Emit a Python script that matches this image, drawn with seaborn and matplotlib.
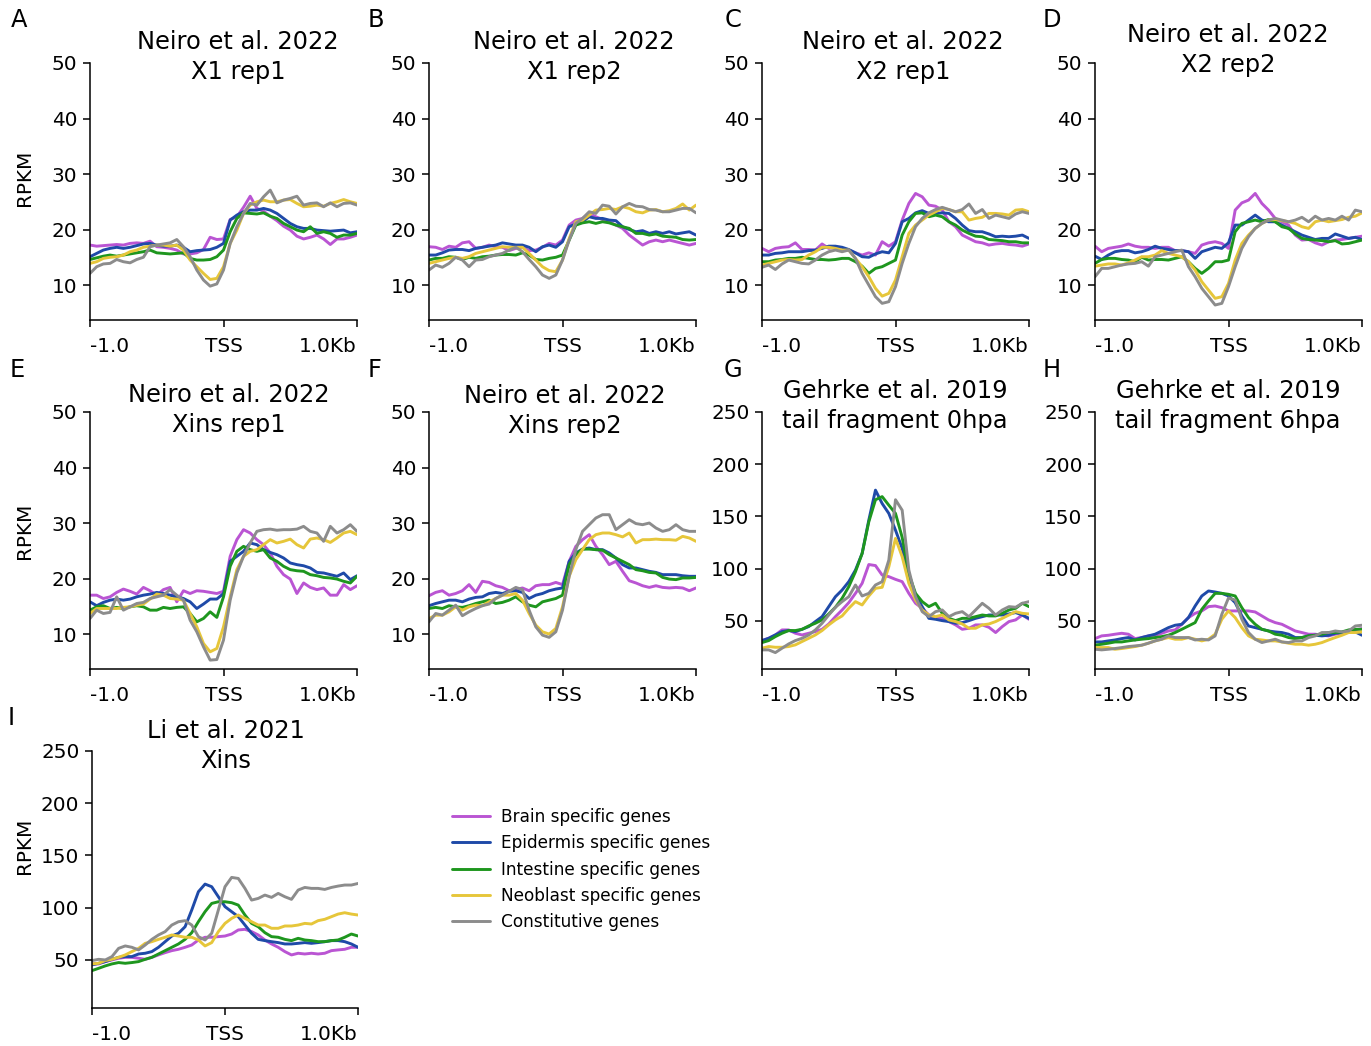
import numpy as np
import pandas as pd
import matplotlib
matplotlib.use("Agg")
import matplotlib.pyplot as plt
import seaborn as sns
from matplotlib.lines import Line2D

sns.set_style("ticks")
plt.rcParams["font.family"] = ["DejaVu Sans"]
for k in ("text.color", "axes.labelcolor", "xtick.color", "ytick.color", "axes.edgecolor"):
    plt.rcParams[k] = "black"

# ---------------- data ----------------
bins = np.linspace(-1000, 1000, 41)
gene_sets = ["Brain specific genes", "Epidermis specific genes", "Intestine specific genes",
             "Neoblast specific genes", "Constitutive genes"]
colors = ["#BA55D3", "#1F4AA8", "#1E961E", "#E6C63A", "#8C8C8C"]
xtick_labels = ["-1.0", "TSS", "1.0Kb"]

A_brain = [17.2,17.0,17.1,17.2,17.3,17.2,17.5,17.6,17.5,17.9,16.9,16.8,16.6,16.3,15.6,15.6,15.8,16.4,18.6,18.2,18.3,21.8,22.3,24.0,26.0,23.8,23.3,22.4,21.6,20.6,19.9,18.8,18.3,18.6,19.0,18.3,17.3,18.3,18.3,18.6,19.0]
A_epid = [15.1,15.7,16.3,16.6,16.8,16.6,16.8,17.1,17.4,17.5,17.2,17.0,17.0,17.2,16.8,16.0,16.2,16.3,16.4,16.8,17.5,21.7,22.6,23.2,23.5,23.5,23.8,23.5,22.9,22.0,21.1,20.5,20.2,20.2,19.9,19.8,19.7,19.8,19.9,19.4,19.6]
A_intest = [14.6,14.9,15.2,15.4,15.2,15.4,15.6,15.8,16.0,16.3,15.8,15.7,15.6,15.7,15.8,14.8,14.5,14.5,14.6,15.1,16.3,19.6,22.0,23.0,22.9,22.8,23.0,22.4,22.0,21.1,20.5,19.9,19.6,20.5,19.3,19.6,19.3,18.6,19.0,19.0,19.3]
A_neo = [13.9,14.2,14.8,15.0,15.1,15.4,16.0,16.3,16.8,17.0,17.2,17.2,17.0,17.2,16.3,14.5,13.3,12.1,11.0,11.2,13.3,17.5,19.9,22.9,24.4,25.0,25.3,25.0,25.0,25.3,25.4,24.7,24.1,24.2,24.4,24.2,24.7,25.0,25.4,25.0,24.7]
A_const = [12.1,13.3,13.8,13.9,14.6,14.2,14.0,14.6,15.0,16.9,17.2,17.4,17.6,18.2,16.9,15.1,12.7,10.9,9.8,10.2,12.7,17.5,20.5,22.9,24.7,24.4,25.9,27.1,24.8,25.3,25.6,26.0,24.4,24.7,24.8,24.1,24.8,24.1,24.7,24.8,24.4]

B_brain = [16.9,16.8,16.4,17.0,16.8,17.6,17.8,16.6,16.8,17.2,16.9,16.8,16.2,16.6,16.8,16.2,16.3,16.8,17.5,17.2,18.1,20.8,21.7,22.0,22.9,22.3,21.8,21.4,20.8,20.2,19.0,18.1,17.2,17.8,18.1,17.8,18.1,17.8,17.5,17.2,17.5]
B_epid = [15.4,15.4,15.8,16.3,16.4,16.4,16.2,16.6,16.8,17.0,17.2,17.6,17.4,17.2,17.2,16.8,16.0,16.9,17.2,16.8,17.8,20.5,21.0,21.4,22.3,22.0,22.0,21.7,21.6,20.5,20.0,19.6,19.8,19.3,19.6,19.3,19.6,19.2,19.4,19.6,19.0]
B_intest = [14.5,14.8,14.8,15.1,15.0,14.6,15.0,14.8,15.1,15.2,15.4,15.5,15.5,15.4,15.8,15.4,14.6,14.5,14.8,15.0,15.4,18.1,20.8,21.2,21.4,21.1,21.4,21.2,20.8,20.5,20.2,19.3,19.3,19.0,19.2,18.8,18.7,18.6,18.2,18.1,18.2]
B_neo = [13.9,14.2,14.5,14.8,15.0,14.8,15.1,15.7,16.0,16.3,16.6,16.9,16.8,16.8,16.8,15.7,14.5,13.3,12.6,12.4,14.5,18.4,21.4,21.7,22.6,23.5,23.6,23.8,23.6,24.1,23.8,23.2,23.0,23.5,23.6,23.2,23.4,23.8,24.6,23.5,24.4]
B_const = [12.7,13.6,13.2,13.9,15.0,14.5,13.3,14.5,14.6,15.1,15.4,15.7,16.3,16.8,16.0,14.6,13.3,11.8,11.2,11.8,14.5,18.1,21.1,22.0,23.2,22.9,24.4,24.2,22.8,24.1,24.7,24.2,24.1,23.6,23.5,23.2,23.2,23.5,23.8,23.8,23.0]

C_brain = [16.6,16.0,16.6,16.8,16.9,17.6,16.4,16.4,16.3,17.4,16.6,16.8,16.3,16.3,15.8,15.4,15.8,15.4,17.8,17.0,17.8,21.7,24.7,26.5,25.9,24.4,24.2,23.5,21.4,20.5,19.0,18.4,17.8,17.6,17.2,17.4,17.5,17.3,17.2,17.0,17.4]
C_epid = [15.4,15.4,15.7,15.8,16.0,16.0,16.0,16.2,16.3,16.6,17.0,17.0,16.8,16.4,15.8,15.1,15.0,15.6,16.0,15.8,17.5,21.4,22.0,23.0,23.4,22.9,22.9,23.0,22.9,22.0,20.8,19.8,19.6,19.6,19.2,18.7,18.8,18.7,18.8,19.0,18.4]
C_intest = [14.2,14.2,14.5,14.6,14.8,14.8,15.0,14.8,14.6,14.6,14.5,14.6,14.8,14.8,14.2,13.4,12.1,13.0,13.3,13.9,14.5,19.0,21.4,22.9,23.0,22.3,22.6,22.3,21.4,20.8,19.9,19.3,18.8,18.7,18.2,18.1,18.0,17.8,17.8,17.6,17.6]
C_neo = [13.6,13.9,14.2,14.5,14.6,14.5,14.6,15.4,16.0,16.8,16.8,16.6,16.3,16.3,14.8,13.3,11.5,9.4,8.0,8.5,10.9,15.1,19.3,20.8,21.7,22.6,23.2,23.8,23.6,23.2,23.2,21.7,22.0,22.2,22.9,22.9,22.8,22.6,23.5,23.6,23.2]
C_const = [13.2,13.6,12.8,13.8,14.5,14.2,13.9,13.8,14.5,15.4,16.0,16.3,16.0,16.3,14.8,12.1,10.0,7.9,6.7,7.0,9.7,13.9,17.5,20.5,22.0,23.0,23.6,24.0,23.6,23.2,23.6,24.6,22.9,23.6,22.0,22.6,22.3,22.0,22.8,23.2,22.9]

D_brain = [17.0,16.0,16.6,16.8,17.0,17.4,17.0,16.8,16.8,16.6,16.8,16.8,16.2,16.2,16.0,15.7,17.2,17.6,17.8,17.5,16.6,23.5,24.8,25.3,26.5,24.7,23.5,22.0,21.4,20.8,19.0,18.1,18.2,17.6,17.2,17.8,18.1,18.2,18.4,18.6,18.8]
D_epid = [15.2,14.6,15.4,16.0,16.2,16.2,15.8,16.0,16.4,17.0,16.6,16.4,16.2,16.2,16.0,14.8,16.0,16.4,16.8,16.6,17.6,20.8,20.8,21.7,22.6,21.7,21.4,21.4,20.8,20.2,19.6,19.0,18.6,18.2,18.4,18.4,19.2,18.8,18.4,18.6,18.2]
D_intest = [13.9,14.6,14.8,14.8,14.6,14.5,14.2,15.0,14.5,14.6,14.6,14.5,14.8,15.1,14.2,13.0,12.1,13.0,14.2,14.2,14.5,19.6,21.1,21.4,21.7,21.4,21.8,21.4,20.5,20.2,19.2,18.4,18.2,18.1,18.0,17.8,18.0,17.4,17.5,17.8,18.1]
D_neo = [13.4,13.6,13.8,13.8,13.6,14.0,14.5,15.1,15.1,15.4,16.2,15.7,15.4,15.1,14.2,12.7,10.6,9.1,7.6,7.9,10.3,14.5,17.5,19.0,20.2,21.1,21.7,21.8,21.6,21.4,21.1,20.5,20.2,21.4,21.7,21.4,21.6,21.8,22.2,22.4,23.0]
D_const = [11.5,13.0,13.0,13.3,13.6,13.8,13.9,14.2,13.4,15.1,15.4,15.7,16.0,16.3,13.3,11.5,9.4,7.9,6.4,6.7,9.7,13.3,16.6,18.7,20.2,21.1,21.7,22.0,21.7,21.4,21.7,22.2,21.4,22.4,21.7,22.0,21.7,22.4,21.7,23.5,23.2]

E_brain = [17.0,17.0,16.4,16.7,17.5,18.1,17.7,17.2,18.4,17.8,17.0,18.0,18.4,15.8,17.8,17.3,17.8,17.7,17.5,17.3,17.7,24.0,27.0,28.8,28.2,27.0,26.1,24.6,22.2,20.7,19.9,17.3,19.2,18.4,18.0,18.3,17.0,17.0,18.9,18.0,18.7]
E_epid = [15.8,15.1,15.7,16.1,16.3,16.1,16.3,16.7,17.0,17.2,17.5,17.3,17.0,16.7,16.4,15.8,14.6,15.4,16.3,16.3,17.3,23.1,24.0,24.9,26.4,26.1,25.2,24.7,24.3,23.7,22.8,22.5,22.3,21.9,21.1,21.0,20.7,20.4,21.0,19.8,20.5]
E_intest = [14.3,14.9,15.1,14.6,14.8,14.6,14.9,15.1,14.9,14.3,14.3,14.8,14.6,14.8,14.9,13.7,12.2,12.8,14.0,13.0,16.7,22.2,24.9,25.8,25.2,24.9,25.2,23.7,23.1,22.2,21.6,21.4,21.3,20.7,20.5,20.2,20.1,19.9,19.5,19.2,20.4]
E_neo = [13.7,14.6,14.6,14.6,14.6,14.8,14.9,15.2,15.4,16.3,17.2,17.0,16.4,16.3,16.1,13.7,11.3,8.3,6.8,7.4,11.3,16.7,21.6,24.0,24.9,25.2,26.1,27.0,26.4,26.7,27.1,26.1,25.5,27.1,27.3,27.0,26.5,27.3,28.2,28.5,27.9]
E_const = [12.8,14.3,13.7,13.9,16.7,14.3,14.9,15.5,15.7,16.4,16.7,17.0,18.0,17.0,16.1,12.5,10.4,7.7,5.3,5.4,8.9,16.1,21.0,24.0,26.4,28.5,28.8,28.9,28.7,28.8,28.8,28.9,29.4,28.5,28.2,26.7,29.4,28.2,28.8,29.7,28.5]

F_brain = [16.9,17.5,17.8,17.0,17.3,17.8,18.9,17.5,19.5,19.3,18.7,18.4,17.8,18.0,18.3,17.8,18.7,18.9,18.9,19.3,18.9,23.1,25.8,27.0,27.9,25.8,24.3,22.5,23.1,21.3,19.6,19.2,18.7,18.4,18.7,18.4,18.3,18.4,18.3,17.8,18.3]
F_epid = [15.1,15.5,15.8,16.1,16.1,15.8,16.3,16.6,16.7,17.3,17.5,17.3,17.7,17.8,17.5,16.4,17.0,17.3,17.8,18.1,18.3,23.1,24.6,25.3,25.5,25.2,25.2,24.6,23.7,22.5,21.9,21.9,21.6,21.3,21.1,20.7,20.7,20.7,20.5,20.4,20.4]
F_intest = [14.6,14.8,14.6,15.1,14.9,14.8,15.1,15.5,15.8,16.1,15.5,15.7,16.1,16.7,15.8,15.2,14.9,15.8,16.1,16.4,17.0,22.5,24.3,25.3,25.3,25.2,25.1,24.3,23.7,23.1,22.5,21.6,21.4,21.1,21.0,20.2,19.9,19.8,20.1,20.1,20.2]
F_neo = [12.8,13.4,13.4,14.0,14.9,14.3,14.9,15.2,15.1,15.8,16.4,17.0,17.0,17.3,16.1,13.7,11.6,10.4,10.0,11.0,14.9,20.4,23.4,25.2,27.0,27.9,28.2,28.2,27.9,27.5,28.2,26.4,27.0,27.0,27.1,27.0,27.0,26.9,27.6,27.3,26.7]
F_const = [12.2,13.7,13.4,14.3,15.2,13.3,14.0,14.6,15.1,15.4,16.4,17.0,17.7,18.4,18.0,14.3,11.3,9.8,9.4,10.4,14.3,20.4,25.2,28.5,29.7,30.9,31.5,31.5,28.8,29.7,30.6,29.9,29.7,30.0,29.1,28.5,28.8,29.7,28.8,28.5,28.5]

G_brain = [31.2,33.4,36.6,41.4,41.4,38.2,36.6,38.2,39.8,42.0,47.1,54.1,60.5,67.5,76.4,86.0,104.0,103.0,93.9,92.4,89.8,87.6,76.4,66.9,62.1,55.7,52.5,52.5,49.4,46.2,42.0,43.0,46.2,46.2,43.9,38.9,44.6,49.4,51.0,55.7,51.6]
G_epid = [31.2,33.4,36.6,39.8,40.8,39.8,42.0,44.6,49.4,54.1,63.7,73.2,79.6,87.6,98.7,114.6,146.5,175.2,162.4,152.9,136.9,119.4,92.4,74.8,63.7,52.5,51.6,50.3,49.4,47.8,48.4,50.3,52.5,54.1,55.7,55.7,55.7,56.7,58.0,55.7,52.5]
G_intest = [29.3,31.2,35.0,38.2,40.8,40.8,42.0,45.2,47.8,51.0,56.7,63.1,71.7,82.8,97.1,114.6,144.9,166.0,169.0,160.8,152.9,130.0,95.0,76.4,68.5,63.7,66.9,57.3,52.5,50.3,52.5,52.5,54.1,55.7,54.8,54.8,57.3,60.5,62.1,66.9,63.7]
G_neo = [23.9,25.5,24.8,24.8,25.5,27.1,30.3,33.4,36.6,40.8,46.2,51.0,54.8,62.1,68.5,65.3,73.9,81.2,82.2,101.9,129.0,111.5,86.0,70.1,60.5,55.7,54.1,55.7,51.0,49.4,47.1,43.0,43.0,46.2,47.1,49.4,52.5,55.7,58.9,57.3,56.7]
G_const = [22.3,22.3,19.7,23.9,28.0,31.2,33.4,36.6,41.4,47.8,55.7,63.1,68.5,73.2,84.4,73.9,76.4,84.4,87.6,108.3,166.0,156.0,98.7,73.2,58.9,54.1,58.9,60.5,54.1,57.3,58.9,54.1,60.5,66.9,62.1,55.7,60.5,63.7,63.1,66.9,68.5]

H_brain = [33.1,35.7,36.3,37.3,38.2,37.3,33.1,34.1,35.7,36.3,38.2,40.4,41.4,46.8,53.2,57.3,59.6,63.7,64.3,62.7,59.6,59.6,59.6,59.6,58.6,54.8,51.0,48.4,46.8,43.6,40.4,38.9,37.3,37.3,36.3,35.7,37.3,38.2,40.4,41.4,42.7]
H_epid = [29.9,29.9,30.9,31.8,33.1,34.1,31.8,34.1,35.7,37.3,40.4,43.6,45.9,46.8,53.2,64.3,73.9,78.7,77.7,76.4,73.9,67.5,54.8,45.2,43.6,42.0,40.4,39.5,38.9,37.3,34.1,34.1,35.7,36.3,35.7,36.3,38.2,38.9,40.4,39.5,36.3]
H_intest = [26.8,27.7,28.7,29.9,29.9,30.9,31.8,32.5,33.1,34.1,35.0,36.3,38.9,42.0,45.2,48.4,61.1,69.1,76.4,76.4,75.5,73.9,62.7,53.2,46.8,42.0,40.4,37.3,36.3,34.1,33.1,34.1,35.7,36.3,37.3,38.9,38.9,39.5,41.4,42.0,42.0]
H_neo = [24.5,24.5,24.5,22.9,23.6,24.5,25.5,26.8,28.7,30.9,32.5,34.1,32.5,32.5,34.1,32.5,30.9,32.5,37.3,51.6,59.6,53.2,43.6,35.7,32.5,31.8,30.9,30.9,29.9,28.7,27.7,27.7,26.8,27.7,29.3,31.8,34.1,36.3,38.9,38.9,39.5]
H_const = [22.9,22.3,22.9,23.6,24.5,25.5,26.1,26.8,28.7,30.9,32.5,35.7,34.1,34.1,34.1,31.8,32.5,31.8,35.7,56.4,72.0,70.0,51.6,38.9,32.5,29.3,30.9,32.5,29.9,29.3,30.9,30.9,34.1,35.7,38.9,38.9,40.4,39.5,40.4,45.2,45.9]

I_brain = [46.2,46.2,48.4,50.0,51.6,52.5,52.5,51.6,50.6,52.5,54.8,57.0,58.9,60.2,62.1,64.3,69.1,71.7,71.7,72.3,72.9,74.8,78.7,79.3,77.1,73.9,69.1,65.3,62.1,58.0,54.8,56.4,55.7,56.4,55.7,56.4,58.9,59.6,60.2,62.1,62.1]
I_epid = [45.2,46.8,48.4,50.6,52.5,53.2,53.2,55.7,56.4,58.0,62.1,67.5,72.9,75.5,81.8,97.8,115.3,122.6,120.1,110.5,101.0,96.2,91.4,83.4,75.5,69.7,68.5,67.5,66.6,65.3,65.3,65.9,66.6,65.9,66.6,67.5,68.5,68.5,67.5,65.3,62.1]
I_intest = [39.8,42.0,44.3,46.2,47.5,46.8,47.5,48.4,50.6,52.5,55.7,58.9,62.1,65.3,69.7,76.1,86.6,96.2,104.1,105.7,105.7,104.8,102.5,93.0,85.0,81.8,76.1,72.3,71.7,69.7,68.5,70.7,69.1,68.5,67.5,67.5,68.5,69.1,71.7,74.8,72.9]
I_neo = [46.2,46.8,49.4,50.6,52.5,54.8,58.0,61.1,65.9,67.5,69.7,71.7,73.9,72.9,71.7,71.7,69.1,63.4,66.6,77.1,85.0,89.8,93.0,89.8,86.6,83.4,83.4,80.3,80.3,82.5,82.5,83.4,85.0,84.4,87.6,88.9,91.4,93.9,95.2,93.9,93.0]
I_const = [49.4,50.6,50.0,53.2,61.1,63.4,62.1,59.6,64.3,69.7,73.9,77.1,83.4,86.6,87.6,83.4,72.3,69.1,75.5,97.8,120.1,129.0,128.0,118.5,107.3,108.9,112.1,109.9,113.7,110.5,108.0,116.9,119.4,118.5,118.5,117.5,119.4,120.7,121.7,121.7,123.2]

titles = {
    "A": "Neiro et al. 2022\nX1 rep1", "B": "Neiro et al. 2022\nX1 rep2",
    "C": "Neiro et al. 2022\nX2 rep1", "D": "Neiro et al. 2022\nX2 rep2",
    "E": "Neiro et al. 2022\nXins rep1", "F": "Neiro et al. 2022\nXins rep2",
    "G": "Gehrke et al. 2019\ntail fragment 0hpa", "H": "Gehrke et al. 2019\ntail fragment 6hpa",
    "I": "Li et al. 2021\nXins",
}
series = {
    "A": [A_brain, A_epid, A_intest, A_neo, A_const],
    "B": [B_brain, B_epid, B_intest, B_neo, B_const],
    "C": [C_brain, C_epid, C_intest, C_neo, C_const],
    "D": [D_brain, D_epid, D_intest, D_neo, D_const],
    "E": [E_brain, E_epid, E_intest, E_neo, E_const],
    "F": [F_brain, F_epid, F_intest, F_neo, F_const],
    "G": [G_brain, G_epid, G_intest, G_neo, G_const],
    "H": [H_brain, H_epid, H_intest, H_neo, H_const],
    "I": [I_brain, I_epid, I_intest, I_neo, I_const],
}
low_ticks = [10, 20, 30, 40, 50]
high_ticks = [50, 100, 150, 200, 250]

# ---------------- layout (pixels) ----------------
W, H = 1371, 1046
boxes = {
    "A": (90, 63, 357, 320), "B": (429, 63, 696, 320), "C": (762, 63, 1029, 320), "D": (1095, 63, 1362, 320),
    "E": (90, 412, 357, 669), "F": (429, 412, 696, 669), "G": (762, 412, 1029, 669), "H": (1095, 412, 1362, 669),
    "I": (92, 751, 358, 1008),
}
title_xy = {"A": (238, 57), "B": (574, 57), "C": (903, 57), "D": (1228, 50),
            "E": (229, 410), "F": (565, 411), "G": (895, 406), "H": (1228, 406), "I": (226, 746)}
letter_xy = {"A": (11, 20), "B": (368, 20), "C": (725, 20), "D": (1043, 20),
             "E": (10, 370), "F": (368, 370), "G": (724, 370), "H": (1043, 370), "I": (8, 718)}
ylabel_y = [178, 531, 846]

fig = plt.figure(figsize=(W / 100, H / 100), dpi=100)
palette = dict(zip(gene_sets, colors))

for key, (l, t, r, b) in boxes.items():
    ax = fig.add_axes([l / W, 1 - b / H, (r - l) / W, (b - t) / H])
    vals = series[key]
    df = pd.DataFrame({
        "pos": np.tile(bins, len(gene_sets)),
        "value": np.concatenate([np.asarray(v, float) for v in vals]),
        "set": np.repeat(gene_sets, len(bins)),
    })
    sns.lineplot(data=df, x="pos", y="value", hue="set", hue_order=gene_sets, palette=palette,
                 estimator=None, legend=False, linewidth=2.1, ax=ax)
    ax.set_xlim(-1000, 1000)
    if key in ("G", "H", "I"):
        ax.set_ylim(4, 250)
        ax.set_yticks(high_ticks)
    else:
        ax.set_ylim(3.7, 50)
        ax.set_yticks(low_ticks)
    ax.set_xticks([-1000, 0, 1000])
    ax.set_xticklabels(xtick_labels)
    lbls = ax.get_xticklabels()
    lbls[0].set_horizontalalignment("left")
    lbls[-1].set_horizontalalignment("right")
    ax.set_xlabel("")
    ax.set_ylabel("")
    ax.tick_params(labelsize=14.4, length=5, width=1.1, colors="black")
    ax.tick_params(axis="x", pad=7)
    ax.tick_params(axis="y", pad=4)
    for s in ("left", "bottom"):
        ax.spines[s].set_linewidth(1.1)
        ax.spines[s].set_color("black")
    sns.despine(ax=ax)
    tx, ty = title_xy[key]
    fig.text(tx / W, 1 - ty / H, titles[key], ha="center", va="center", fontsize=17.4,
             linespacing=1.3, color="black")
    lx, ly = letter_xy[key]
    fig.text(lx / W, 1 - ly / H, key, ha="left", va="center", fontsize=17.4, color="black")

for yy in ylabel_y:
    fig.text(25 / W, 1 - yy / H, "RPKM", rotation=90, ha="center", va="center", fontsize=14.4,
             color="black")

handles = [Line2D([0], [0], color=c, lw=2.1) for c in colors]
fig.legend(handles, gene_sets, loc="upper left", bbox_to_anchor=(437 / W, 1 - 793 / H),
           frameon=False, fontsize=12.2, handlelength=2.2, handletextpad=0.7, labelspacing=0.48)

fig.savefig("out.png", dpi=100)
